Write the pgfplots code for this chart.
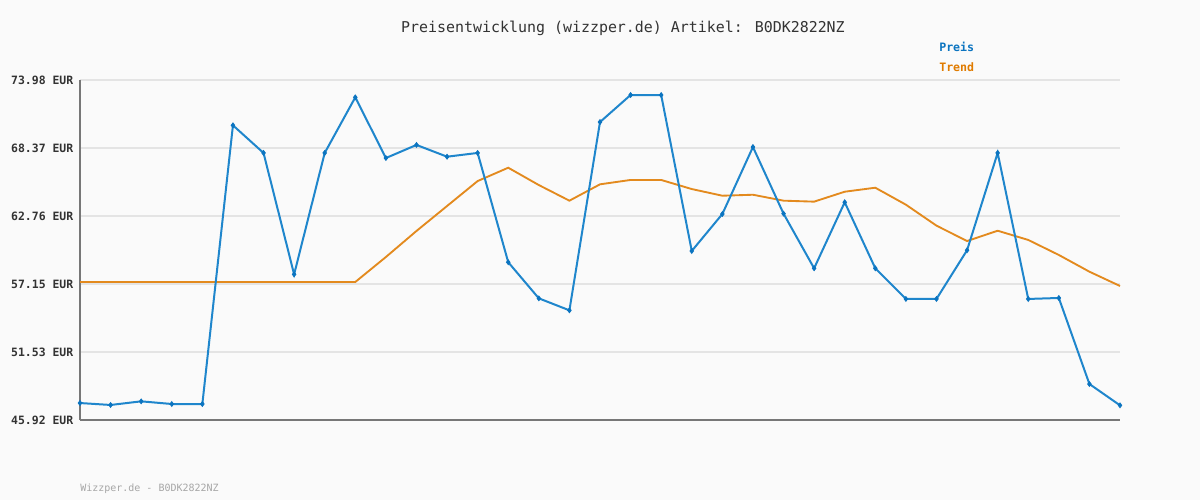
\documentclass[border=0pt]{standalone}
\usepackage{fontspec}
\setmainfont{DejaVu Sans Mono}
\usepackage{pgfplots}
\pgfplotsset{compat=1.18}
\definecolor{bgc}{HTML}{FAFAFA}
\definecolor{gridc}{HTML}{E4E4E4}
\definecolor{axisc}{HTML}{777777}
\definecolor{preisc}{HTML}{1F86CC}
\definecolor{trendc}{HTML}{E38A1E}
\definecolor{preislab}{HTML}{0B74C0}
\definecolor{trendlab}{HTML}{E07B00}
\begin{document}
\begin{tikzpicture}
% 1 px of the 1200x500 reference = 0.75pt
\fill[bgc] (0pt,0pt) rectangle (900pt,375pt);
\node[anchor=center, text=black!80, font=\fontsize{11.2}{13}\selectfont] at (467.25pt,354pt)
  {Preisentwicklung (wizzper.de) Artikel: B0DK2822NZ};
\node[anchor=west, inner sep=0pt, text=preislab, font=\bfseries\fontsize{8.7}{10}\selectfont] at (704.25pt,339.75pt) {Preis};
\node[anchor=west, inner sep=0pt, text=trendlab, font=\bfseries\fontsize{8.7}{10}\selectfont] at (704.25pt,324.75pt) {Trend};
\node[anchor=west, inner sep=0pt, text=black!35, font=\fontsize{7.5}{9}\selectfont] at (60pt,8.5pt) {Wizzper.de - B0DK2822NZ};
\begin{axis}[
    at={(60pt,60pt)}, anchor=south west,
    scale only axis,
    width=780pt, height=255pt,
    xmin=0, xmax=34,
    ymin=45.92, ymax=73.98,
    axis x line*=bottom,
    axis y line*=left,
    axis line style={axisc, line width=1.5pt, -},
    xtick=\empty,
    ytick={45.92,51.53,57.15,62.76,68.37,73.98},
    yticklabels={45.92 EUR,51.53 EUR,57.15 EUR,62.76 EUR,68.37 EUR,73.98 EUR},
    yticklabel style={text=black!80, font=\bfseries\fontsize{8.6}{10}\selectfont, xshift=-1.5pt},
    major tick length=0pt,
    ymajorgrids,
    major grid style={gridc, line width=1.3pt},
    clip=false,
]
\addplot[trendc, line width=1.4pt] coordinates {
(0,57.31) (1,57.31) (2,57.31) (3,57.31) (4,57.31) (5,57.31) (6,57.31) (7,57.31) (8,57.31) (9,57.31)
(10,59.37) (11,61.52) (12,63.58) (13,65.64) (14,66.74) (15,65.31) (16,64.02) (17,65.37) (18,65.73)
(19,65.73) (20,64.98) (21,64.43) (22,64.51) (23,64.02) (24,63.94) (25,64.76) (26,65.09) (27,63.69)
(28,61.96) (29,60.69) (30,61.54) (31,60.78) (32,59.54) (33,58.16) (34,56.98)
};
\addplot[preisc, line width=1.5pt, mark=diamond*, mark size=1.8pt, mark options={line width=0.6pt, fill=preislab, draw=preislab}] coordinates {
(0,47.32) (1,47.16) (2,47.46) (3,47.24) (4,47.24) (5,70.24) (6,67.96) (7,57.94) (8,67.96) (9,72.55)
(10,67.54) (11,68.62) (12,67.65) (13,67.96) (14,58.94) (15,55.96) (16,54.97) (17,70.51) (18,72.74)
(19,72.74) (20,59.87) (21,62.92) (22,68.45) (23,62.95) (24,58.44) (25,63.89) (26,58.44) (27,55.91)
(28,55.91) (29,59.93) (30,67.96) (31,55.91) (32,55.99) (33,48.89) (34,47.13)
};
\end{axis}
\end{tikzpicture}
\end{document}
